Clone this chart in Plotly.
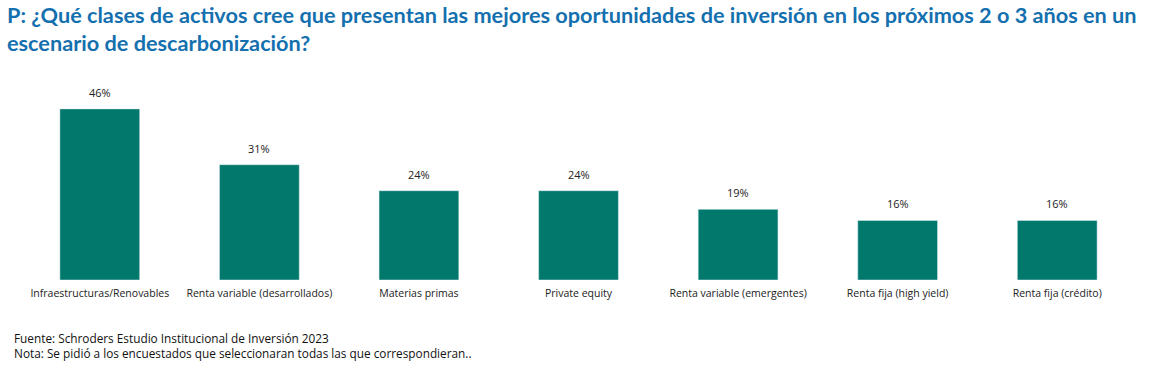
import plotly.graph_objects as go

categories = ["Infraestructuras/Renovables", "Renta variable (desarrollados)", "Materias primas",
              "Private equity", "Renta variable (emergentes)", "Renta fija (high yield)", "Renta fija (crédito)"]
values = [46, 31, 24, 24, 19, 16, 16]
labels = [f"{v}%" for v in values]

title_text = ("P: ¿Qué clases de activos cree que presentan las mejores oportunidades de inversión en los próximos 2 o 3 años en un<br>"
              "escenario de descarbonización?")
footnote = ("Fuente: Schroders Estudio Institucional de Inversión 2023<br>"
            "Nota: Se pidió a los encuestados que seleccionaran todas las que correspondieran..")

fig = go.Figure(go.Bar(
    x=categories, y=values, marker_color="#00786C", hoverinfo="x+y",
))

for c, v, t in zip(categories, values, labels):
    fig.add_annotation(x=c, y=v, text=t, showarrow=False, yanchor="bottom", yshift=7,
                       font=dict(size=11, color="#222222", family="Open Sans"))

fig.add_annotation(text=title_text, x=-0.0134, xref="paper", y=1.505, yref="paper", xanchor="left", yanchor="top",
                   showarrow=False, align="left",
                   font=dict(family="Lato", size=21.7, color="#1470AE", weight="bold"))
fig.add_annotation(text=footnote, x=-0.007, xref="paper", y=-0.26, yref="paper", xanchor="left", yanchor="top",
                   showarrow=False, align="left", font=dict(size=11.8, color="#111111", family="Open Sans"))

fig.update_layout(
    width=1160, height=380,
    margin=dict(l=20, r=23, t=94, b=100),
    paper_bgcolor="white", plot_bgcolor="white",
    bargap=0.5,
    showlegend=False,
    xaxis=dict(showgrid=False, showline=False, ticks="", ticklabelstandoff=5,
               tickfont=dict(size=10.5, color="#222222", family="Open Sans")),
    yaxis=dict(range=[0, 50], visible=False),
)
fig.write_html("out.html", config={"displayModeBar": False},
               post_script="document.body.style.margin='0';")
